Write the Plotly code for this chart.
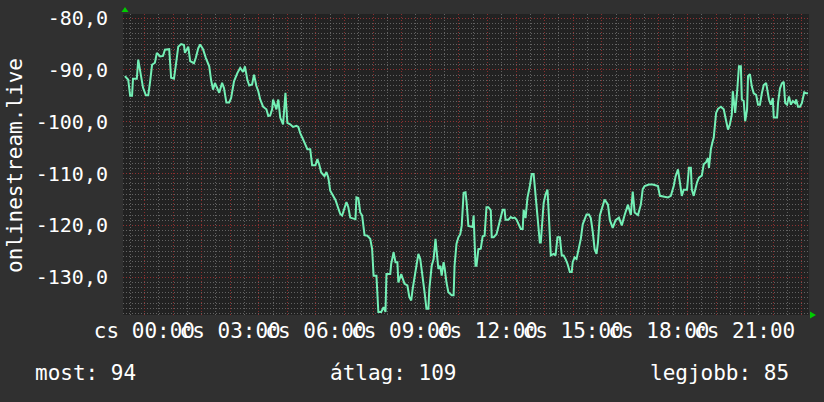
import plotly.graph_objects as go

# time in minutes relative to midnight (cs 00:00), value = -rank
minutes = [-41, -34, -30, -26, -24, -16, -13, -7, -3, 3, 8, 12, 16, 22, 26, 33, 39, 43, 52, 56,
           62, 66, 71, 77, 83, 85, 92, 96, 104, 108, 113, 117, 123, 129, 136, 140, 144, 148, 153, 157,
           163, 167, 172, 178, 182, 188, 195, 201, 207, 211, 216, 220, 226, 230, 235, 239, 243, 249, 256, 260,
           264, 268, 270, 277, 281, 285, 291, 296, 300, 306, 312, 319, 323, 327, 333, 338, 342, 348, 352, 359,
           363, 367, 371, 378, 382, 386, 390, 396, 401, 405, 411, 415, 420, 424, 428, 432, 439, 443, 445, 449,
           453, 457, 462, 468, 474, 478, 481, 487, 491, 497, 502, 506, 508, 516, 518, 523, 527, 531, 533, 539,
           546, 552, 556, 560, 563, 567, 571, 575, 579, 581, 586, 588, 592, 596, 598, 603, 607, 611, 613, 617,
           621, 624, 628, 630, 634, 638, 645, 649, 651, 655, 659, 663, 666, 670, 674, 676, 680, 685, 689, 691,
           695, 697, 701, 706, 710, 714, 718, 722, 727, 729, 733, 739, 743, 748, 752, 756, 758, 764, 769, 773,
           777, 781, 785, 790, 794, 796, 800, 804, 809, 813, 817, 821, 825, 830, 832, 836, 838, 842, 846, 849,
           853, 859, 863, 867, 872, 876, 880, 884, 888, 893, 897, 899, 903, 907, 912, 916, 920, 924, 928, 933,
           937, 941, 945, 949, 952, 956, 962, 966, 973, 977, 983, 989, 996, 1002, 1008, 1015, 1021, 1025, 1029, 1036,
           1042, 1046, 1050, 1059, 1067, 1078, 1082, 1099, 1105, 1111, 1115, 1120, 1124, 1128, 1132, 1139, 1143, 1147, 1149, 1153,
           1160, 1164, 1170, 1174, 1179, 1183, 1185, 1189, 1193, 1195, 1200, 1204, 1210, 1216, 1221, 1225, 1229, 1233, 1235, 1240,
           1244, 1248, 1252, 1254, 1258, 1261, 1265, 1267, 1271, 1275, 1279, 1284, 1288, 1292, 1296, 1300, 1305, 1309, 1311, 1315,
           1319, 1321, 1328, 1330, 1334, 1338, 1342, 1345, 1349, 1353, 1357, 1361, 1366, 1368, 1372, 1376, 1380, 1385, 1389, 1393]

values = [-91.2, -91.9, -95.0, -95.0, -91.7, -91.7, -88.0, -91.3, -93.4, -94.9, -94.9, -92.2, -89.0, -88.6, -86.7, -87.4, -87.3, -86.1, -86.0, -91.5,
          -91.7, -89.0, -85.5, -85.0, -85.2, -86.7, -85.5, -88.3, -88.7, -87.6, -85.8, -85.1, -86.0, -87.7, -89.3, -92.0, -93.8, -92.5, -93.5, -94.4,
          -92.5, -93.5, -96.3, -96.3, -95.4, -92.2, -90.6, -89.6, -90.4, -89.3, -91.9, -93.0, -92.8, -90.9, -93.1, -94.1, -95.7, -97.1, -97.6, -98.9,
          -98.8, -97.6, -95.7, -97.6, -95.7, -99.2, -100.5, -94.4, -100.2, -100.5, -101.0, -100.8, -101.0, -102.2, -103.4, -104.3, -105.3, -105.3, -108.4, -108.4,
          -107.2, -108.3, -109.8, -110.5, -109.7, -110.8, -113.3, -114.3, -115.1, -116.2, -117.8, -118.1, -116.5, -115.5, -116.5, -118.5, -118.7, -118.8, -114.6, -114.7,
          -117.5, -118.1, -121.9, -122.0, -122.6, -124.6, -129.7, -129.7, -136.7, -136.7, -135.8, -136.7, -129.4, -129.4, -127.4, -125.2, -127.1, -127.1, -131.0, -129.4,
          -131.3, -131.6, -133.8, -134.5, -132.3, -129.7, -127.8, -125.5, -126.5, -127.8, -130.7, -132.9, -136.1, -136.1, -132.3, -127.8, -126.5, -122.6, -124.6, -128.4,
          -127.8, -129.7, -127.1, -128.1, -131.0, -132.9, -133.5, -133.5, -127.8, -123.6, -122.3, -121.7, -120.1, -113.7, -113.6, -115.3, -120.1, -120.2, -120.3, -118.1,
          -127.8, -127.8, -124.6, -124.5, -122.1, -122.0, -116.5, -116.5, -117.1, -122.3, -122.3, -121.7, -120.4, -118.8, -117.0, -117.0, -118.9, -118.9, -118.4, -118.6,
          -118.5, -118.9, -119.8, -120.7, -120.7, -117.0, -118.6, -114.7, -112.4, -110.1, -110.1, -113.6, -118.2, -123.3, -123.3, -118.2, -115.7, -114.0, -113.1, -118.2,
          -125.8, -125.5, -125.8, -122.3, -122.3, -125.8, -125.8, -126.5, -127.4, -129.0, -129.0, -127.1, -126.2, -126.5, -124.6, -122.6, -119.8, -119.0, -117.9, -117.9,
          -118.6, -121.2, -124.6, -125.5, -123.3, -118.1, -116.0, -115.0, -116.0, -119.0, -120.5, -119.0, -118.5, -120.0, -118.0, -116.0, -118.0, -113.5, -117.5, -118.0,
          -116.0, -113.0, -112.4, -112.1, -112.1, -112.4, -114.3, -114.6, -114.3, -112.4, -110.5, -109.2, -111.7, -114.3, -113.1, -113.1, -108.9, -108.9, -113.1, -114.3,
          -111.7, -110.8, -110.4, -108.2, -107.8, -107.0, -108.9, -105.3, -103.7, -103.1, -98.3, -97.5, -97.1, -97.6, -99.8, -101.5, -100.5, -98.6, -94.1, -98.3,
          -94.3, -89.3, -89.3, -95.7, -96.0, -99.9, -97.6, -91.2, -90.8, -93.2, -94.5, -94.8, -96.7, -96.7, -94.5, -92.9, -92.5, -94.3, -95.7, -96.7,
          -95.4, -99.2, -99.2, -96.4, -93.6, -92.6, -92.3, -96.4, -96.7, -95.1, -96.7, -96.0, -96.4, -95.7, -97.1, -97.1, -96.4, -94.3, -94.5, -94.5]

x_tick_minutes = [h * 60 for h in range(24)]
x_tick_text = ["cs %02d:00" % h if h % 3 == 0 else "" for h in range(24)]
y_tick_vals = [-80, -90, -100, -110, -120, -130]
y_tick_text = ["-80,0", "-90,0", "-100,0", "-110,0", "-120,0", "-130,0"]
axis_title = "onlinestream.live"
legend_now = "most: 94"
legend_avg = "átlag: 109"
legend_best = "legjobb: 85"

FONT = "DejaVu Sans Mono"
BG = "#303030"
PLOT_BG = "#222222"
MAJOR = "rgba(150,45,45,0.9)"
MINOR = "rgba(115,115,115,0.8)"

fig = go.Figure()
fig.add_trace(go.Scatter(x=minutes, y=values, mode="lines",
                         line=dict(color="#74f0b6", width=2), hoverinfo="skip"))

L, R, T, B = 123, 15, 14, 87
W, H = 824, 402
pw, ph = W - L - R, H - T - B

fig.update_layout(
    width=W, height=H,
    margin=dict(l=L, r=R, t=T, b=B, autoexpand=False),
    paper_bgcolor=BG, plot_bgcolor=PLOT_BG,
    showlegend=False,
    font=dict(family=FONT, color="#ffffff"),
)
fig.update_xaxes(
    range=[-45, 1395], tickmode="array", tickvals=x_tick_minutes, ticktext=x_tick_text,
    tickangle=0, tickfont=dict(family=FONT, size=21, color="#ffffff"), automargin=False,
    showgrid=True, gridcolor=MAJOR, gridwidth=1, griddash="1px,2px",
    zeroline=False, showline=False, ticks="", ticklabelstandoff=1,
    minor=dict(tickmode="linear", tick0=30, dtick=60, showgrid=True,
               gridcolor=MINOR, gridwidth=1, griddash="1px,2px", ticks=""),
)
fig.update_yaxes(
    range=[-137.3, -79.2], tickmode="array", tickvals=y_tick_vals, ticktext=y_tick_text,
    tickfont=dict(family=FONT, size=20, color="#ffffff"), automargin=False,
    showgrid=True, gridcolor=MAJOR, gridwidth=1, griddash="1px,2px",
    zeroline=False, showline=False, ticks="", ticklabelstandoff=14,
    minor=dict(tickmode="linear", tick0=0, dtick=1, showgrid=True,
               gridcolor=MINOR, gridwidth=1, griddash="1px,2px", ticks=""),
)

def px(xp):
    return (xp - L) / pw

def py(yp):
    return (H - B - yp) / ph

fig.add_annotation(text=axis_title, xref="paper", yref="paper", x=px(15), y=py(165),
                   textangle=-90, showarrow=False, xanchor="center", yanchor="middle",
                   font=dict(family=FONT, size=21, color="#ffffff"))
for txt, xp, anchor in [(legend_now, 33, "left"), (legend_avg, 393, "center"), (legend_best, 791, "right")]:
    fig.add_annotation(text=txt, xref="paper", yref="paper", x=px(xp), y=py(373),
                       showarrow=False, xanchor=anchor, yanchor="middle",
                       font=dict(family=FONT, size=21, color="#ffffff"))

# RRD-style axis arrows
fig.add_shape(type="path", xref="paper", yref="paper",
              path="M %f %f L %f %f L %f %f Z" % (px(121.5), py(12), px(128.5), py(12), px(125), py(7)),
              fillcolor="#00cc00", line=dict(width=0))
fig.add_shape(type="path", xref="paper", yref="paper",
              path="M %f %f L %f %f L %f %f Z" % (px(810), py(311.5), px(810), py(318.5), px(816), py(315)),
              fillcolor="#00cc00", line=dict(width=0))

fig.write_html("out.html", config={"displayModeBar": False},
               post_script="document.body.style.margin='0';document.body.style.background='#303030';")
